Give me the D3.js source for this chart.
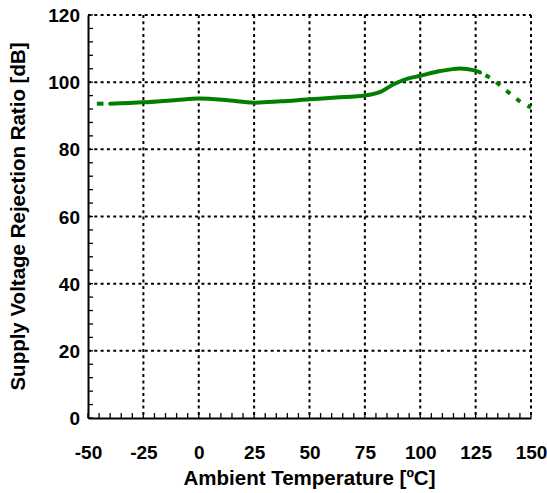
<!DOCTYPE html>
<html>
<head>
<meta charset="utf-8">
<script src="https://cdn.jsdelivr.net/npm/d3@7"></script>
<style>
  html, body { margin: 0; padding: 0; background: #fff; }
  svg { display: block; }
  text { font-family: "Liberation Sans", Arial, sans-serif; font-weight: bold; fill: #000; }
</style>
</head>
<body>
<svg id="chart" width="547" height="493"></svg>
<script>
// ---- data ----
const xTicks = [-50, -25, 0, 25, 50, 75, 100, 125, 150];
const yTicks = [0, 20, 40, 60, 80, 100, 120];

// extrapolated low-temperature segment (dashed)
const lowTemp = [-46, -43];
const lowSVRR = [93.6, 93.6];

// measured segment (solid)
const midTemp = [-40, -25, -10, 0, 12, 25, 37, 50, 62, 75, 82, 88, 94, 100, 109, 118, 124, 127];
const midSVRR = [93.6, 94.0, 94.7, 95.1, 94.7, 93.9, 94.3, 94.9, 95.4, 96.0, 97.1, 99.4, 101.0, 101.9, 103.3, 104.1, 103.6, 102.9];

// extrapolated high-temperature segment (dotted)
const highTemp = [127, 131, 135, 140, 145, 150];
const highSVRR = [102.9, 101.5, 99.6, 96.9, 94.3, 92.5];

const xLabel = "Ambient Temperature [ºC]";
const yLabel = "Supply Voltage Rejection Ratio [dB]";

// ---- layout ----
const svg = d3.select("#chart");
const L = 88, R = 531, T = 15, B = 418;
const FONT = "'Liberation Sans', Arial, sans-serif";

const x = d3.scaleLinear().domain([-50, 150]).range([L, R]);
const y = d3.scaleLinear().domain([0, 120]).range([B, T]);

// grid (dotted)
const grid = svg.append("g");
grid.selectAll("line.vx").data(xTicks.slice(1)).join("line")
  .attr("x1", d => x(d)).attr("x2", d => x(d))
  .attr("y1", T).attr("y2", B)
  .attr("stroke", "#000").attr("stroke-width", 2)
  .attr("stroke-dasharray", "3,3.3");
grid.selectAll("line.hy").data(yTicks.slice(1)).join("line")
  .attr("x1", L).attr("x2", R)
  .attr("y1", d => y(d)).attr("y2", d => y(d))
  .attr("stroke", "#000").attr("stroke-width", 2)
  .attr("stroke-dasharray", "3,3.3");

// minor ticks (inside)
const minorX = d3.range(-50, 151, 5);
const minorY = d3.range(0, 121, 4);
svg.append("g").selectAll("line").data(minorX).join("line")
  .attr("x1", d => x(d)).attr("x2", d => x(d))
  .attr("y1", B).attr("y2", B - 5)
  .attr("stroke", "#000").attr("stroke-width", 1.3);
svg.append("g").selectAll("line").data(minorY).join("line")
  .attr("x1", L).attr("x2", L + 5)
  .attr("y1", d => y(d)).attr("y2", d => y(d))
  .attr("stroke", "#000").attr("stroke-width", 1.3);

// axes (solid left & bottom)
const xAxis = d3.axisBottom(x).tickValues(xTicks).tickSize(0).tickPadding(0).tickFormat(d => String(d));
const gx = svg.append("g").attr("transform", `translate(0,${B})`).call(xAxis);
gx.select(".domain").attr("stroke", "#000").attr("stroke-width", 2);
gx.selectAll(".tick text").attr("font-size", 19).attr("dy", 0).attr("y", 41)
  .style("font-family", FONT).style("font-weight", "bold");

const yAxis = d3.axisLeft(y).tickValues(yTicks).tickSize(0).tickPadding(8).tickFormat(d => String(d));
const gy = svg.append("g").attr("transform", `translate(${L},0)`).call(yAxis);
gy.select(".domain").attr("stroke", "#000").attr("stroke-width", 2);
gy.selectAll(".tick text").attr("font-size", 19).attr("dy", "0.35em")
  .style("font-family", FONT).style("font-weight", "bold");

// axis labels
svg.append("text").attr("x", (L + R) / 2).attr("y", 485)
  .attr("text-anchor", "middle").attr("font-size", 20.5).text(xLabel);
svg.append("text").attr("transform", `translate(25,${(T + B) / 2}) rotate(-90)`)
  .attr("text-anchor", "middle").attr("font-size", 20.5).text(yLabel);

// curves
const line = d3.line().x(d => x(d[0])).y(d => y(d[1])).curve(d3.curveCatmullRom.alpha(0.5));
const green = "#008000";
svg.append("path").datum(d3.zip(lowTemp, lowSVRR)).attr("d", line)
  .attr("fill", "none").attr("stroke", green).attr("stroke-width", 4);
svg.append("path").datum(d3.zip(midTemp, midSVRR)).attr("d", line)
  .attr("fill", "none").attr("stroke", green).attr("stroke-width", 4).attr("stroke-linecap", "round");
svg.append("path").datum(d3.zip(highTemp, highSVRR)).attr("d", line)
  .attr("fill", "none").attr("stroke", green).attr("stroke-width", 4)
  .attr("stroke-dasharray", "0,6,5,2");
</script>
</body>
</html>
